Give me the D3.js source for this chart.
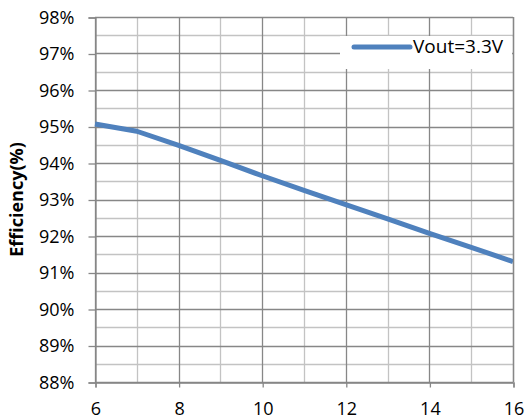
<!DOCTYPE html>
<html>
<head>
<meta charset="utf-8">
<script src="https://cdn.jsdelivr.net/npm/d3@7"></script>
<style>
  body { margin: 0; background: #fff; }
  svg text { font-family: "Open Sans", sans-serif; fill: #000; }
</style>
</head>
<body>
<svg id="chart" width="525" height="419"></svg>
<script>
// input voltage (V) and efficiency (%)
var vin = [6, 7, 8, 9, 10, 11, 12, 13, 14, 15, 16]
var eff = [95.07, 94.87, 94.48, 94.07, 93.65, 93.25, 92.86, 92.47, 92.07, 91.69, 91.3]
var xTicks = [6, 8, 10, 12, 14, 16]
var xMinor = [7, 9, 11, 13, 15]
var yTicks = [88, 89, 90, 91, 92, 93, 94, 95, 96, 97, 98]
var yMinor = [88.5, 89.5, 90.5, 91.5, 92.5, 93.5, 94.5, 95.5, 96.5, 97.5]
var seriesName = 'Vout=3.3V'

var svg = d3.select('#chart')
var plotL = 95, plotR = 513, plotT = 17, plotB = 382

var x = d3.scaleLinear().domain([6, 16]).range([plotL, plotR])
var y = d3.scaleLinear().domain([88, 98]).range([plotB, plotT])

var majorColor = '#878787', minorColor = '#c3c3c3'

// minor grid
svg.append('g').selectAll('line').data(yMinor).enter().append('line')
  .attr('x1', plotL).attr('x2', plotR)
  .attr('y1', d => Math.round(y(d)) + 0.5).attr('y2', d => Math.round(y(d)) + 0.5)
  .attr('stroke', minorColor).attr('stroke-width', 1.3)
svg.append('g').selectAll('line').data(xMinor).enter().append('line')
  .attr('y1', plotT).attr('y2', plotB)
  .attr('x1', d => Math.round(x(d)) + 0.5).attr('x2', d => Math.round(x(d)) + 0.5)
  .attr('stroke', minorColor).attr('stroke-width', 1.3)

// major grid
svg.append('g').selectAll('line').data(yTicks).enter().append('line')
  .attr('x1', plotL).attr('x2', plotR)
  .attr('y1', d => Math.round(y(d)) + 0.5).attr('y2', d => Math.round(y(d)) + 0.5)
  .attr('stroke', majorColor).attr('stroke-width', 1.3)
svg.append('g').selectAll('line').data(xTicks).enter().append('line')
  .attr('y1', plotT).attr('y2', plotB)
  .attr('x1', d => Math.round(x(d)) + 0.5).attr('x2', d => Math.round(x(d)) + 0.5)
  .attr('stroke', majorColor).attr('stroke-width', 1.3)

// axes
var yAxis = d3.axisLeft(y).tickValues(yTicks).tickSize(7).tickPadding(14)
  .tickFormat(d => d + '%')
var gy = svg.append('g').attr('transform', 'translate(' + (plotL + 0.5) + ',0.5)').call(yAxis)
var xAxis = d3.axisBottom(x).tickValues(xTicks).tickSize(5).tickPadding(15)
var gx = svg.append('g').attr('transform', 'translate(0.5,' + (plotB + 0.5) + ')').call(xAxis)
;[gx, gy].forEach(g => {
  g.select('.domain').attr('stroke', majorColor).attr('stroke-width', 1.3)
  g.selectAll('.tick line').attr('stroke', majorColor).attr('stroke-width', 1.3)
  g.selectAll('.tick text').attr('font-size', 18).attr('font-family', '"Open Sans", sans-serif').attr('fill', '#000')
})

// y title
svg.append('text')
  .attr('transform', 'translate(23,' + ((plotT + plotB) / 2) + ') rotate(-90)')
  .attr('text-anchor', 'middle')
  .attr('font-size', 18).attr('font-weight', 'bold')
  .text('Efficiency(%)')

// legend box
svg.append('rect').attr('x', 340).attr('y', 36).attr('width', 172).attr('height', 33).attr('fill', '#fff')

// data line
var line = d3.line().x((d, i) => x(vin[i])).y(d => y(d))
svg.append('path').datum(eff)
  .attr('d', line)
  .attr('fill', 'none').attr('stroke', '#4f81bd').attr('stroke-width', 5)
  .attr('stroke-linejoin', 'round')

// right edge of plot area
svg.append('line').attr('x1', plotR + 0.5).attr('x2', plotR + 0.5).attr('y1', plotT).attr('y2', plotB)
  .attr('stroke', majorColor).attr('stroke-width', 1.3)

svg.append('line').attr('x1', 354).attr('x2', 410).attr('y1', 47).attr('y2', 47)
  .attr('stroke', '#4f81bd').attr('stroke-width', 5).attr('stroke-linecap', 'round')
svg.append('text').attr('x', 413).attr('y', 53).attr('font-size', 19).text(seriesName)
</script>
</body>
</html>
